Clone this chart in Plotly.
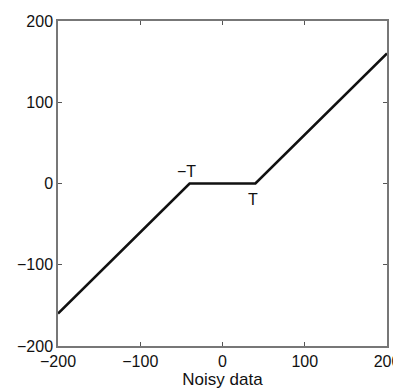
import plotly.graph_objects as go

x_vals = [-200, -40, 40, 200]
y_vals = [-160, 0, 0, 160]
tick_vals = [-200, -100, 0, 100, 200]
tick_text = ["\u2212200", "\u2212100", "0", "100", "200"]
annot_labels = ["\u2212T", "T"]
annot_x = [-44, 37]
annot_y = [0, 0]

FONT = "Liberation Sans, Arial"

fig = go.Figure()
fig.add_trace(go.Scatter(x=x_vals, y=y_vals, mode="lines",
                         line=dict(color="#111111", width=2.6), showlegend=False))

axis_common = dict(
    range=[-200, 200], tickvals=tick_vals, ticktext=tick_text,
    ticks="inside", ticklen=4, tickcolor="#555555", mirror="ticks",
    showline=True, linecolor="#777777", linewidth=1.5,
    showgrid=False, zeroline=False, automargin=False,
    ticklabeloverflow="allow",
    tickfont=dict(family=FONT, size=16, color="#111111"),
)
fig.update_xaxes(**axis_common, title=dict(text="Noisy data", standoff=0,
                 font=dict(family=FONT, size=17, color="#111111")))
fig.update_yaxes(**axis_common)

for lab, ax_, ay_, yshift in zip(annot_labels, annot_x, annot_y, [12, -16]):
    fig.add_annotation(x=ax_, y=ay_, text=lab, showarrow=False, yshift=yshift,
                       font=dict(family=FONT, size=16, color="#111111"))

fig.update_layout(width=393, height=381, margin=dict(l=50, r=14, t=13, b=43),
                  plot_bgcolor="white", paper_bgcolor="white")
fig.write_html("out.html")
